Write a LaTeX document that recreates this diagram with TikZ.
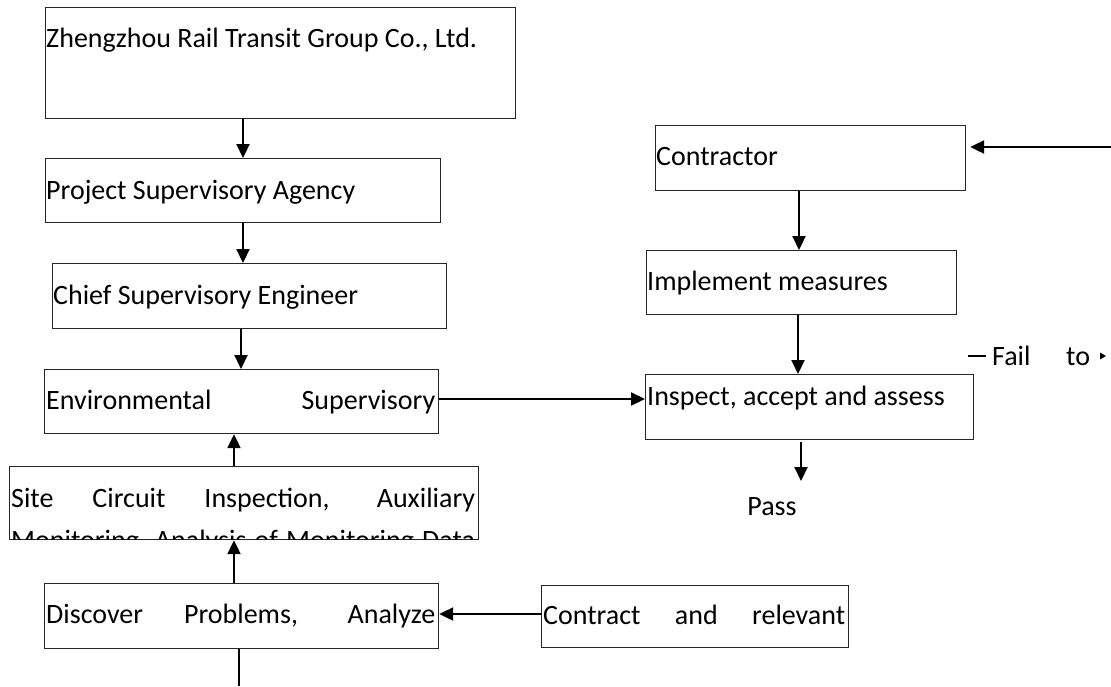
\documentclass[tikz,border=0pt]{standalone}
\usepackage{fontspec}
\setmainfont{Carlito}
\usetikzlibrary{arrows.meta,calc}
\begin{document}
\begin{tikzpicture}[x=1pt,y=-1pt,
  box/.style={draw=black!85, line width=1.2pt, inner sep=0pt, anchor=north west},
  lbl/.style={anchor=base west, inner sep=0pt, font=\fontsize{28}{33}\selectfont},
  arr/.style={line width=2.2pt, -{Triangle[length=14pt,width=13pt]}},
  ln/.style={line width=2.2pt}]
\useasboundingbox (0,0) rectangle (1111,686);
% boxes
\node[box, minimum width=470pt, minimum height=111pt] (zz) at (45,7) {};
\node[box, minimum width=395pt, minimum height=64pt] (psa) at (45,158) {};
\node[box, minimum width=394pt, minimum height=65pt] (cse) at (52,263) {};
\node[box, minimum width=394pt, minimum height=64pt] (esv) at (44,369) {};
\node[box, minimum width=469pt, minimum height=73pt] (site) at (9,466) {};
\node[box, minimum width=394pt, minimum height=65pt] (disc) at (44,583) {};
\node[box, minimum width=307pt, minimum height=62pt] (contract) at (541,585) {};
\node[box, minimum width=310pt, minimum height=65pt] (contractor) at (655,125) {};
\node[box, minimum width=310pt, minimum height=64pt] (impl) at (646,250) {};
\node[box, minimum width=328pt, minimum height=65pt] (insp) at (645,374) {};
% texts
\node[lbl] (zzt) at (46,47) {Zhengzhou Rail Transit Group Co., Ltd.};
\node[lbl] (psat) at (46,199) {Project Supervisory Agency};
\node[lbl] (cset) at (53,304) {Chief Supervisory Engineer};
\node[lbl] (esvt) at (46,409) {\makebox[389pt][s]{Environmental Supervisory}};
\node[lbl] (sitet) at (11,507) {\makebox[464pt][s]{Site Circuit Inspection, Auxiliary}};
\begin{scope}
\clip (9,466) rectangle (478,539);
\node[lbl] (sitet2) at (11,549) {\makebox[464pt][s]{Monitoring, Analysis of Monitoring Data}};
\end{scope}
\node[lbl] (disct) at (46,623) {\makebox[389pt][s]{Discover Problems, Analyze}};
\node[lbl] (contractt) at (543,624) {\makebox[302pt][s]{Contract and relevant}};
\node[lbl] (contractort) at (656,165) {Contractor};
\node[lbl] (implt) at (647,290) {Implement measures};
\node[lbl] (inspt) at (647,405) {Inspect, accept and assess};
\node[lbl, anchor=base] (pass) at (772,515) {Pass};
\node[lbl] (fail) at (992,365) {Fail};
\node[lbl] (to) at (1066,365) {to};
% connectors
\draw[arr] (243,0 |- zz.south) -- (243,0 |- psa.north);
\draw[arr] (243,0 |- psa.south) -- (243,0 |- cse.north);
\draw[arr] (241,0 |- cse.south) -- (241,0 |- esv.north);
\draw[arr] (234,0 |- site.north) -- (234,0 |- esv.south);
\draw[arr] (234,0 |- disc.north) -- (234,0 |- site.south);
\coordinate (bot) at (239,686);
\draw[ln] (239,0 |- disc.south) -- (bot);
\draw[arr] (contract.west |- 0,614) -- (disc.east |- 0,614);
\draw[arr] (esv.east |- 0,399) -- (insp.west |- 0,399);
\draw[arr] (799,0 |- contractor.south) -- (799,0 |- impl.north);
\draw[arr] (798,0 |- impl.south) -- (798,0 |- insp.north);
\draw[arr] ($(801,0 |- insp.south)+(0,2)$) -- (801,481);
\coordinate (redge) at (1111,147);
\draw[arr] (redge) -- ($(contractor.east |- redge)+(4,0)$);
\coordinate (d1) at (968,356);
\coordinate (d2) at (986,356);
\draw[ln] (d1) -- (d2);
\fill (1100,352.5) -- (1106,356) -- (1100,359.5) -- cycle;
\end{tikzpicture}
\end{document}
